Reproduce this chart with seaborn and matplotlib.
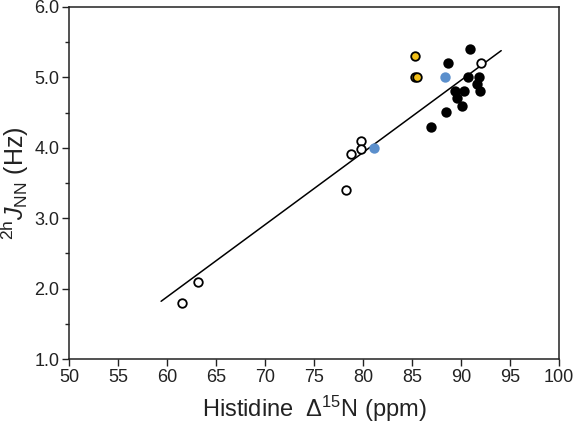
import matplotlib
matplotlib.use("Agg")
import matplotlib.pyplot as plt
import seaborn as sns
import pandas as pd
from matplotlib.ticker import MultipleLocator

# Data
open_x = [61.5, 63.2, 78.25, 78.8, 79.8, 79.8, 92.0]
open_y = [1.80, 2.10, 3.40, 3.91, 4.10, 3.99, 5.21]
black_x = [90.9, 88.65, 90.7, 91.85, 91.6, 91.95, 89.4, 90.3, 89.6, 90.05, 88.5, 86.95]
black_y = [5.41, 5.21, 5.00, 5.00, 4.91, 4.81, 4.81, 4.81, 4.71, 4.60, 4.51, 4.30]
blue_x = [81.1, 88.35]
blue_y = [4.00, 5.00]
yellow_x = [85.35, 85.3, 85.5]
yellow_y = [5.31, 5.00, 5.00]
fit_x = [59.4, 94.1]
fit_y = [1.82, 5.38]
x_ticks = list(range(50, 101, 5))
y_ticks = [1.0, 2.0, 3.0, 4.0, 5.0, 6.0]

sns.set_theme(style="ticks")
plt.rcParams['font.family'] = ['Liberation Sans', 'DejaVu Sans']
plt.rcParams['mathtext.fontset'] = 'custom'
plt.rcParams['mathtext.rm'] = 'Liberation Sans'
plt.rcParams['mathtext.it'] = 'Liberation Sans:italic'

fig = plt.figure(figsize=(5.73, 4.24), dpi=100)
ax = fig.add_axes([0.1204, 0.1533, 0.8552, 0.8302])

ax.plot(fit_x, fit_y, color='black', lw=1.1, zorder=1)

groups = [
    (open_x, open_y, 'white'),
    (black_x, black_y, 'black'),
    (blue_x, blue_y, '#5b8fcc'),
    (yellow_x, yellow_y, '#f2c018'),
]
for gx, gy, col in groups:
    df = pd.DataFrame({'x': gx, 'y': gy})
    ec = col if col == '#5b8fcc' else 'black'
    sns.scatterplot(data=df, x='x', y='y', ax=ax, color=col, edgecolor=ec,
                    linewidth=1.3, s=38, zorder=3, legend=False)

ax.set_xlim(50, 100)
ax.set_ylim(1.0, 6.0)
ax.set_xticks(x_ticks)
ax.set_yticks(y_ticks)
ax.set_yticklabels([f"{v:.1f}" for v in y_ticks])
ax.yaxis.set_minor_locator(MultipleLocator(0.5))
ax.tick_params(axis='both', which='major', direction='out', length=5, width=1,
               labelsize=13, color='#222222', labelcolor='#222222', pad=2)
ax.tick_params(axis='y', which='minor', direction='out', length=3, width=1, color='#222222')
for sp in ax.spines.values():
    sp.set_linewidth(1.1)
    sp.set_color('#222222')

ax.set_xlabel(r'Histidine  $\Delta^{15}$N (ppm)', fontsize=17, color='#222222', labelpad=6)
ax.set_ylabel(r'$^{\mathrm{2h}}J_{\mathrm{NN}}$ (Hz)', fontsize=18, color='#222222', labelpad=2)

fig.savefig('out.png', dpi=100)
